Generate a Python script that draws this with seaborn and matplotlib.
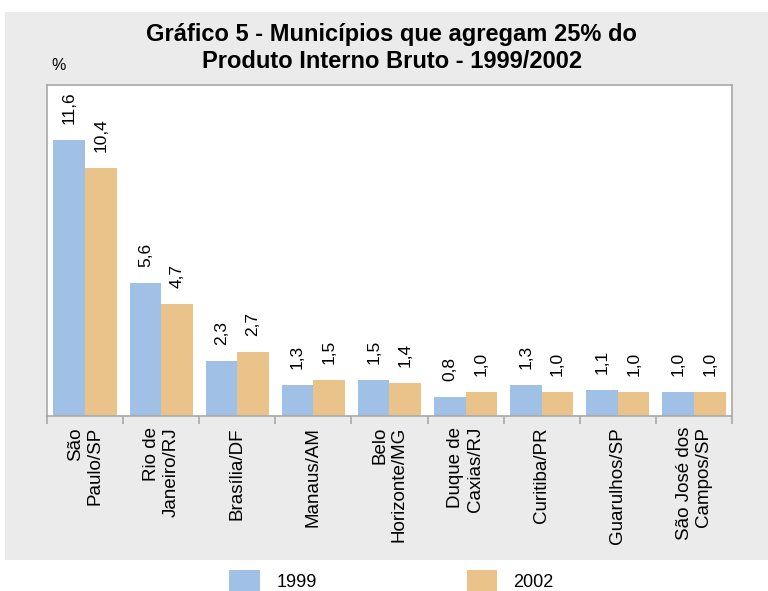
import matplotlib
matplotlib.use("Agg")
import matplotlib.pyplot as plt
import seaborn as sns
import pandas as pd
from matplotlib.patches import Rectangle

categories = ["São\nPaulo/SP", "Rio de\nJaneiro/RJ", "Brasília/DF", "Manaus/AM",
              "Belo\nHorizonte/MG", "Duque de\nCaxias/RJ", "Curitiba/PR",
              "Guarulhos/SP", "São José dos\nCampos/SP"]
v1999 = [11.6, 5.6, 2.3, 1.3, 1.5, 0.8, 1.3, 1.1, 1.0]
v2002 = [10.4, 4.7, 2.7, 1.5, 1.4, 1.0, 1.0, 1.0, 1.0]
years = ["1999", "2002"]
title = "Gráfico 5 - Municípios que agregam 25% do\nProduto Interno Bruto - 1999/2002"

df = pd.DataFrame({
    "cat": categories * 2,
    "val": v1999 + v2002,
    "ano": [years[0]] * len(categories) + [years[1]] * len(categories),
})

sns.set_theme(style="white")
plt.rcParams["font.family"] = ["Liberation Sans", "DejaVu Sans"]
plt.rcParams["text.color"] = "black"
plt.rcParams["xtick.color"] = "black"

fig = plt.figure(figsize=(7.68, 5.91), dpi=100)
fig.patch.set_facecolor("white")
bg = Rectangle((5 / 768, 1 - 560 / 591), 1 - 5 / 768, (560 - 12) / 591,
               transform=fig.transFigure, facecolor="#ebebeb",
               edgecolor="none", zorder=-10)
fig.patches.append(bg)

ax = fig.add_axes([47 / 768, 1 - 416 / 591, (732 - 47) / 768, (416 - 85) / 591])
ax.set_zorder(1)
ax.set_facecolor("white")
palette = {"1999": "#a0c0e6", "2002": "#e9c38a"}
sns.barplot(data=df, x="cat", y="val", hue="ano", palette=palette, width=0.83,
            saturation=1, ax=ax, edgecolor="none", linewidth=0)

ax.set_xlim(-0.5, len(categories) - 0.5)
ax.set_ylim(0, 13.9)
ax.set_xlabel("")
ax.set_ylabel("")
ax.set_yticks([])

# value labels
for cont in ax.containers:
    for rect in cont:
        h = rect.get_height()
        ax.annotate(f"{h:.1f}".replace(".", ","),
                    (rect.get_x() + rect.get_width() / 2, h),
                    xytext=(0, 11.5), textcoords="offset points",
                    rotation=90, ha="center", va="bottom", fontsize=12.5, color="black")

# ticks
ax.set_xticks(range(len(categories)))
ax.set_xticklabels(categories, rotation=90, fontsize=13.5, ha="center", va="top",
                   multialignment="right", color="black", linespacing=1.2)
ax.tick_params(axis="x", which="major", length=0, pad=8)
ax.set_xticks([i - 0.5 for i in range(len(categories) + 1)], minor=True)
ax.tick_params(axis="x", which="minor", length=6, width=1.2, color="#a8a8a8", direction="out")
ax.xaxis.set_tick_params(which="minor", bottom=True)

for s in ax.spines.values():
    s.set_visible(True)
    s.set_color("#a8a8a8")
    s.set_linewidth(1.2)

fig.text(0.51, 1 - 48 / 591, title, ha="center", va="center", fontsize=17,
         fontweight="bold", color="black", linespacing=1.2)
fig.text(51 / 768, 1 - 66 / 591, "%", ha="left", va="center", fontsize=11.5, color="black")

handles, labels = ax.get_legend_handles_labels()
ax.get_legend().remove()
fig.legend(handles, labels, loc="center", bbox_to_anchor=(0.51, 1 - 581 / 591), ncol=2,
           frameon=False, fontsize=13, handlelength=1.7, handleheight=1.45,
           columnspacing=8.3, handletextpad=0.9, labelcolor="black")

fig.savefig("out.png", dpi=100)
